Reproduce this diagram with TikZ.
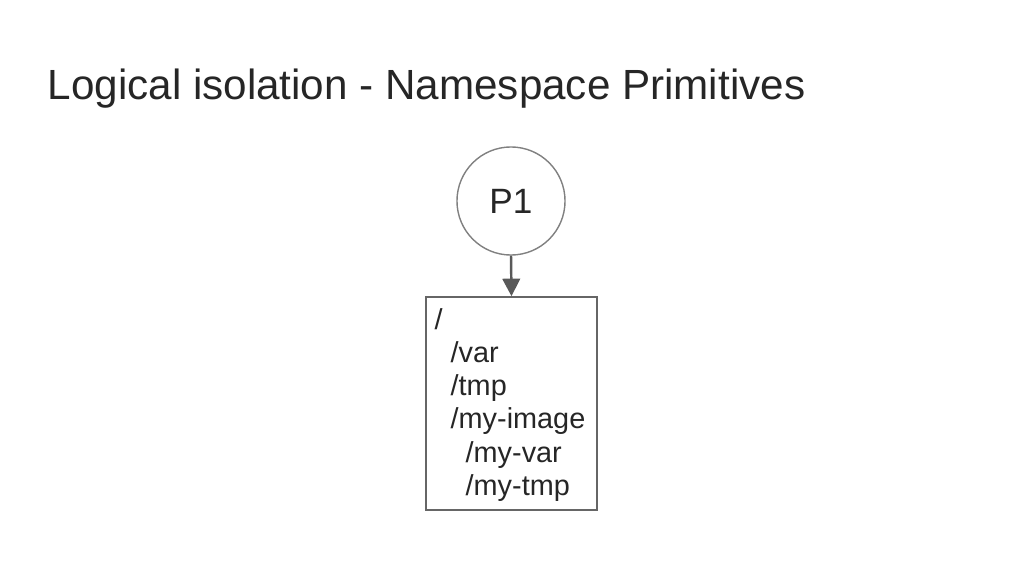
\documentclass[tikz,border=0pt]{standalone}
\usepackage{fontspec}
\setmainfont{Liberation Sans}
\usetikzlibrary{arrows.meta}
\begin{document}
\begin{tikzpicture}[x=0.01cm,y=-0.01cm,
  lbl/.style={anchor=base west,inner sep=0pt,font=\fontsize{8.2pt}{10pt}\selectfont,text=black!85}]
\useasboundingbox (0,0) rectangle (1024,576);
\node[anchor=base west,inner sep=0pt,font=\fontsize{12pt}{14pt}\selectfont,text=black!85] (title) at (47,100) {Logical isolation - Namespace Primitives};
\node[circle,draw=black!50,minimum size=108\pgflinewidth*0+1.08cm,inner sep=0pt,font=\fontsize{10pt}{12pt}\selectfont,text=black!85] (p1) at (511,201) {P1};
\node[draw=black!60,minimum width=1.71cm,minimum height=2.13cm,inner sep=0pt] (box) at (511.5,403.5) {};
\draw[black!65,line width=0.7pt,-{Triangle[length=5pt,width=5pt]}] (p1.south) -- (box.north);
\node[lbl] (l0) at (434,330) {/};
\node[lbl] (l1) at (450,363) {/var};
\node[lbl] (l2) at (450,396) {/tmp};
\node[lbl] (l3) at (450,429) {/my-image};
\node[lbl] (l4) at (465,462) {/my-var};
\node[lbl] (l5) at (465,495) {/my-tmp};
\end{tikzpicture}
\end{document}
